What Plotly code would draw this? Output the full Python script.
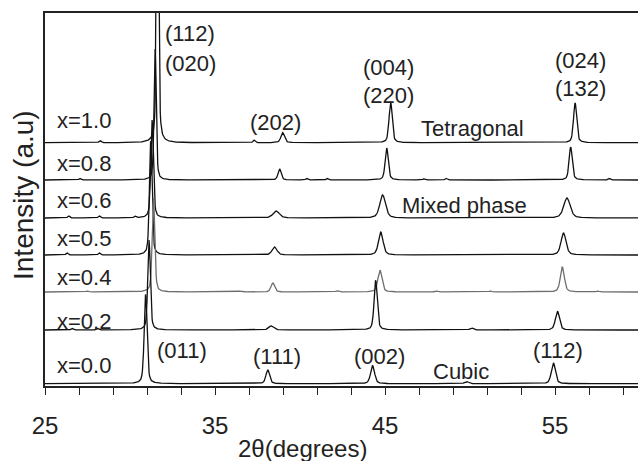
import numpy as np
import plotly.graph_objects as go

# ---- data ----
samples = ["x=1.0", "x=0.8", "x=0.6", "x=0.5", "x=0.4", "x=0.2", "x=0.0"]
offsets = [243.3, 206.0, 168.0, 131.0, 94.0, 56.0, 2.3]   # vertical stacking offsets (a.u.)
line_colors = ["#111", "#111", "#111", "#111", "#6e6e6e", "#111", "#111"]

# peaks: (2theta, intensity, fwhm)
peaks_x10 = [(28.24, 2, 0.15), (31.62, 420, 0.13), (37.3, 2.5, 0.15), (38.98, 10, 0.25),
             (45.33, 41, 0.22), (56.18, 40, 0.22)]
peaks_x08 = [(27.06, 1.5, 0.15), (31.48, 131, 0.15), (38.8, 11, 0.22), (40.4, 1.5, 0.15),
             (41.6, 1.5, 0.15), (45.1, 32, 0.22), (47.3, 1.2, 0.15), (48.6, 1.5, 0.15),
             (55.92, 33, 0.22), (58.2, 1.5, 0.15)]
peaks_x06 = [(26.4, 2, 0.15), (28.2, 2, 0.15), (30.3, 1.5, 0.15), (31.3, 98, 0.18),
             (38.6, 7, 0.45), (44.86, 23, 0.4), (55.7, 20, 0.45)]
peaks_x05 = [(26.3, 2, 0.15), (28.2, 2, 0.15), (31.22, 115, 0.18), (38.5, 8, 0.35),
             (44.75, 23, 0.32), (55.5, 22, 0.35)]
peaks_x04 = [(27.5, 1, 0.2), (31.38, 95, 0.18), (36.5, 1, 0.2), (38.4, 9, 0.25),
             (42.2, 1.2, 0.2), (44.7, 22, 0.28), (48.0, 1.2, 0.2), (51.2, 1, 0.2),
             (55.43, 25, 0.28), (57.5, 1, 0.2)]
peaks_x02 = [(26.6, 1.5, 0.15), (28.1, 1.5, 0.15), (31.12, 90, 0.18), (38.3, 4, 0.35),
             (44.45, 50, 0.22), (50.1, 2, 0.25), (55.14, 19, 0.28)]
peaks_x00 = [(30.92, 90, 0.2), (38.1, 14, 0.25), (44.27, 18, 0.28), (49.8, 2, 0.3),
             (54.9, 21, 0.28)]
peak_sets = [peaks_x10, peaks_x08, peaks_x06, peaks_x05, peaks_x04, peaks_x02, peaks_x00]

# reflection labels: (text, 2theta, level, anchor)
hkl_labels = [("(112)", 31.94, 353, "left"), ("(020)", 31.94, 323, "left"),
              ("(202)", 38.53, 264, "center"), ("(004)", 45.18, 319, "center"),
              ("(220)", 45.18, 291, "center"), ("(024)", 56.47, 326, "center"),
              ("(132)", 56.47, 298, "center"), ("(011)", 33.06, 36, "center"),
              ("(111)", 38.65, 29.3, "center"), ("(002)", 44.7, 29.3, "center"),
              ("(112)", 55.18, 35.3, "center")]
phase_labels = [("Tetragonal", 50.16, 258), ("Mixed phase", 49.7, 181), ("Cubic", 49.44, 14.3)]
sample_label_y = [266, 223, 186, 148, 109, 65, 21]

two_theta = np.arange(25.0, 60.0, 0.03)


def pattern(peaks):
    y = np.zeros_like(two_theta)
    for pos, h, w in peaks:
        g = np.exp(-4 * np.log(2) * ((two_theta - pos) / w) ** 2)
        lor = 1 / (1 + (2 * (two_theta - pos) / w) ** 2)
        y += h * (0.55 * g + 0.45 * lor)
    return y


fig = go.Figure()
for name, off, col, pk in zip(samples, offsets, line_colors, peak_sets):
    fig.add_trace(go.Scatter(x=two_theta, y=pattern(pk) + off, mode="lines", name=name,
                             line=dict(color=col, width=1.3), showlegend=False))

FONT = "Liberation Sans, Arial, sans-serif"
ann = []
for name, ly in zip(samples, sample_label_y):
    ann.append(dict(x=25.6, y=ly, text=name, xanchor="left", yanchor="middle", showarrow=False,
                    font=dict(size=22, color="#222", family=FONT)))
for t, xx, yy, anc in hkl_labels:
    ann.append(dict(x=xx, y=yy, text=t, xanchor=anc, yanchor="middle", showarrow=False,
                    font=dict(size=22, color="#222", family=FONT)))
for t, xx, yy in phase_labels:
    ann.append(dict(x=xx, y=yy, text=t, xanchor="center", yanchor="middle", showarrow=False,
                    font=dict(size=22, color="#222", family=FONT)))
ann.append(dict(xref="paper", yref="paper", x=(302 - 45) / 593, y=(386 - 448) / 373,
                text="2θ(degrees)", showarrow=False, xanchor="center", yanchor="middle",
                font=dict(size=24, color="#222", family=FONT)))
ann.append(dict(xref="paper", yref="paper", x=(23 - 45) / 593, y=(386 - 195) / 373,
                text="Intensity (a.u)", textangle=-90, showarrow=False, xanchor="center",
                yanchor="middle", font=dict(size=28, color="#222", family=FONT)))

fig.update_layout(
    width=638, height=461, margin=dict(l=45, r=0, t=13, b=75),
    paper_bgcolor="white", plot_bgcolor="white",
    annotations=ann,
    xaxis=dict(range=[25, 59.88], showline=True, linecolor="#222", linewidth=1.5, mirror=True,
               showgrid=False, zeroline=False, ticks="outside", ticklen=7, tickwidth=1.3,
               tickcolor="#222", tick0=25, dtick=10, ticklabelstandoff=10,
               tickfont=dict(size=24, color="#222", family=FONT),
               minor=dict(tick0=25, dtick=2, ticks="outside", ticklen=7, tickwidth=1.3,
                          tickcolor="#222", showgrid=False)),
    yaxis=dict(range=[0, 373], showline=True, linecolor="#222", linewidth=1.5, showgrid=False,
               zeroline=False, showticklabels=False, ticks=""),
)
fig.write_html("out.html")
